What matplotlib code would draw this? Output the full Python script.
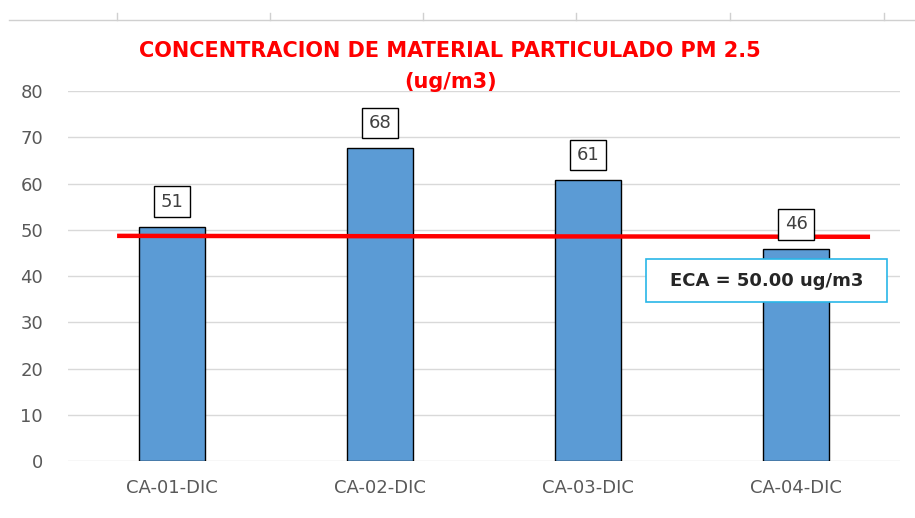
import matplotlib.pyplot as plt
from matplotlib.lines import Line2D
from matplotlib.patches import Rectangle

categories = ['CA-01-DIC', 'CA-02-DIC', 'CA-03-DIC', 'CA-04-DIC']
values = [50.7, 67.7, 60.8, 45.8]
eca_line = [48.7, 48.5]
yticks = [0, 10, 20, 30, 40, 50, 60, 70, 80]

plt.rcParams['font.family'] = ['Liberation Sans Narrow', 'DejaVu Sans']

fig = plt.figure(figsize=(9.15, 5.18), dpi=100)
ax = fig.add_axes([68 / 915, 0.110, 832 / 915, 0.714])

x = list(range(len(categories)))
ax.bar(x, values, width=0.32, color='#5b9bd5', edgecolor='black', linewidth=1.0, zorder=3)

for xi, v in zip(x, values):
    ax.annotate('%.0f' % v, (xi, v), xytext=(0, 18), textcoords='offset points',
                ha='center', va='center', fontsize=13, color='#404040', family='DejaVu Sans',
                bbox=dict(boxstyle='square,pad=0.35', fc='white', ec='black', lw=1.0), zorder=5)

ax.plot([-0.264, 3.356], eca_line, color='red', linewidth=3.2, solid_capstyle='butt', zorder=4)

ax.add_patch(Rectangle((2.279, 34.4), 1.158, 9.3, fc='white', ec='#29b6e8', lw=1.2, zorder=6))
ax.text(2.858, 39.0, 'ECA = 50.00 ug/m3', ha='center', va='center', fontsize=13,
        fontweight='bold', color='#262626', family='DejaVu Sans', zorder=7)

ax.set_xlim(-0.5, 3.5)
ax.set_ylim(0, 80)
ax.set_yticks(yticks)
ax.set_xticks(x)
ax.set_xticklabels(categories)
ax.tick_params(axis='both', length=0, labelsize=13, labelcolor='#595959')
ax.tick_params(axis='x', pad=13)
ax.tick_params(axis='y', pad=18)
ax.grid(axis='y', color='#d9d9d9', linewidth=1.0, zorder=0)
for s in ax.spines.values():
    s.set_visible(False)

fig.text(0.492, 0.902, 'CONCENTRACION DE MATERIAL PARTICULADO PM 2.5', ha='center', va='center',
         fontsize=15, fontweight='bold', color='red')
fig.text(0.492, 0.842, '(ug/m3)', ha='center', va='center',
         fontsize=15, fontweight='bold', color='red')

# spreadsheet cell border at the top
fig.add_artist(Line2D([0.01, 1.0], [0.961, 0.961], color='#d0d0d0', lw=1.0))
for gx in [117, 270, 423, 576, 730, 884]:
    fig.add_artist(Line2D([gx / 915, gx / 915], [0.961, 0.975], color='#d0d0d0', lw=1.0))

fig.savefig('out.png', dpi=100)
